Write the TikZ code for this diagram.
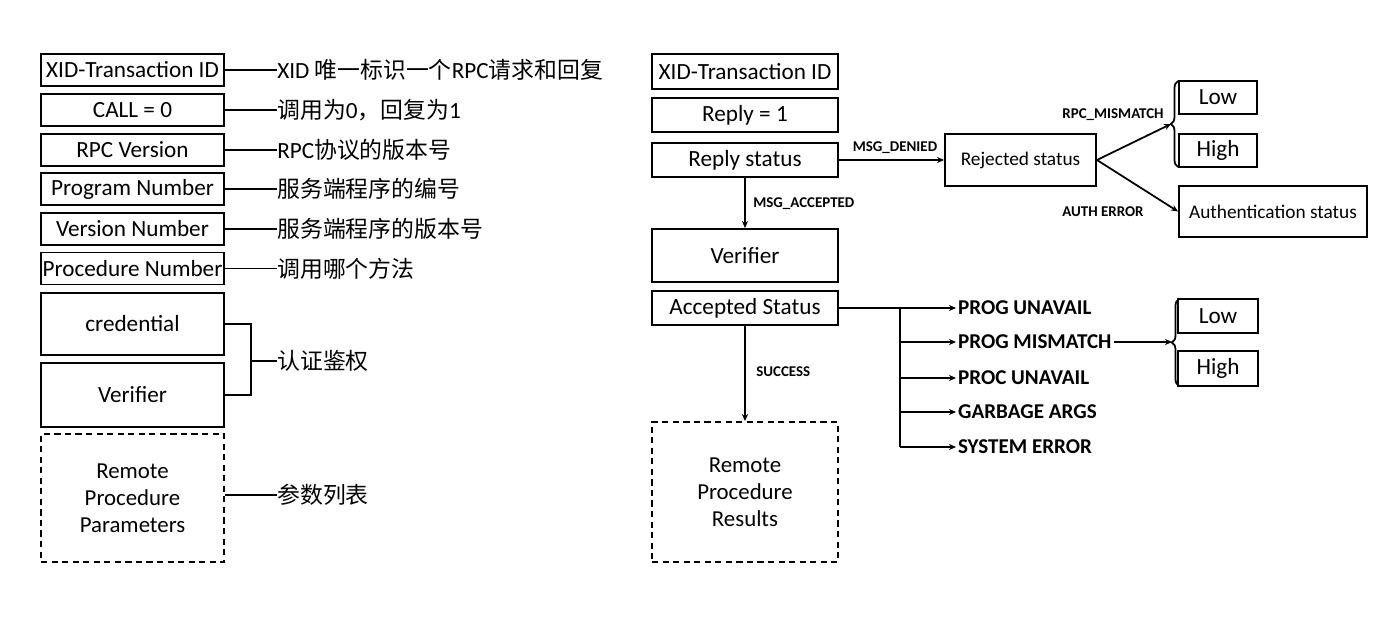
\documentclass[tikz,border=0pt]{standalone}
\usepackage{fontspec}
\setmainfont{Carlito}
\newfontfamily\cjk{Noto Sans CJK SC}
\usetikzlibrary{arrows.meta,decorations.pathreplacing}
\newcommand\zh[1]{{\cjk\fontsize{13}{15}\selectfont #1}}
\tikzset{
  field/.style={draw,line width=1.1pt,minimum width=3.66cm,minimum height=0.64cm,inner sep=0pt,font=\fontsize{13.2}{15}\selectfont},
  dfield/.style={field,dash pattern=on 3.5pt off 2.5pt,align=center,font=\fontsize{13}{15.4}\selectfont},
  state/.style={draw,line width=1.1pt,inner sep=0pt,font=\fontsize{11}{13}\selectfont},
  note/.style={anchor=west,inner sep=0pt,font=\fontsize{13.2}{15}\selectfont},
  tag/.style={inner sep=0pt,font=\bfseries\fontsize{8.5}{10}\selectfont},
  code/.style={anchor=west,inner sep=1pt,font=\bfseries\fontsize{12}{13}\selectfont},
  wire/.style={line width=1pt},
  arr/.style={wire,-{Stealth[length=4pt,width=3.5pt]}},
  vbrace/.style={decorate,decoration={brace,amplitude=4pt},line width=1pt}
}
\begin{document}
\begin{tikzpicture}
\useasboundingbox (0,0) rectangle (27.68,-12.68);
\node[field] (xid) at (2.65,-1.40) {XID-Transaction ID};
\node[field] (call) at (2.65,-2.20) {CALL = 0};
\node[field] (rpcv) at (2.65,-3.00) {RPC Version};
\node[field] (prog) at (2.65,-3.78) {Program Number};
\node[field] (vers) at (2.65,-4.58) {Version Number};
\node[field] (proc) at (2.65,-5.37) {Procedure Number};
\node[field,minimum height=1.24cm] (cred) at (2.65,-6.48) {credential};
\node[field,minimum height=1.28cm] (verf) at (2.65,-7.90) {Verifier};
\node[dfield,minimum height=2.56cm] (params) at (2.65,-9.96) {Remote\\Procedure\\Parameters};

\node[note] (nxid) at (5.54,-1.40) {XID \zh{唯一标识一个}RPC\zh{请求和回复}};
\node[note] (ncall) at (5.54,-2.20) {\zh{调用为}0\zh{，回复为}1};
\node[note] (nrpcv) at (5.54,-3.00) {RPC\zh{协议的版本号}};
\node[note] (nprog) at (5.54,-3.78) {\zh{服务端程序的编号}};
\node[note] (nvers) at (5.54,-4.58) {\zh{服务端程序的版本号}};
\node[note] (nproc) at (5.54,-5.37) {\zh{调用哪个方法}};
\node[note] (nauth) at (5.54,-7.22) {\zh{认证鉴权}};
\node[note] (nparams) at (5.54,-9.90) {\zh{参数列表}};
\coordinate (join) at (5.02,-7.22);

\draw[wire] (xid) -- (nxid);
\draw[wire] (call) -- (ncall);
\draw[wire] (rpcv) -- (nrpcv);
\draw[wire] (prog) -- (nprog);
\draw[wire] (vers) -- (nvers);
\draw[wire] (proc) -- (nproc);
\draw[wire] (cred.east) -| (join) |- (verf.east);
\draw[wire] (join) -- (nauth);
\draw[wire] (params.east |- nparams) -- (nparams);

\node[field,minimum width=3.72cm,minimum height=0.70cm] (rxid) at (14.90,-1.43) {XID-Transaction ID};
\node[field,minimum width=3.72cm,minimum height=0.68cm] (reply) at (14.90,-2.30) {Reply = 1};
\node[field,minimum width=3.72cm,minimum height=0.68cm] (rstat) at (14.90,-3.20) {Reply status};
\node[field,minimum width=3.72cm,minimum height=1.06cm] (rverf) at (14.90,-5.11) {Verifier};
\node[field,minimum width=3.72cm,minimum height=0.68cm] (acc) at (14.90,-6.16) {Accepted Status};
\node[dfield,minimum width=3.72cm,minimum height=2.80cm] (res) at (14.90,-9.84) {Remote\\Procedure\\Results};

\node[state,minimum width=3.02cm,minimum height=1.04cm] (rej) at (20.41,-3.20) {Rejected status};
\node[field,minimum width=1.56cm,minimum height=0.66cm] (low1) at (24.36,-1.95) {Low};
\node[field,minimum width=1.56cm,minimum height=0.66cm] (high1) at (24.36,-3.01) {High};
\node[state,minimum width=3.76cm,minimum height=1.02cm] (authst) at (25.46,-4.23) {Authentication status};
\draw[vbrace] (23.56,-3.34) -- (23.56,-1.62);
\coordinate (tip1) at (23.42,-2.48);

\draw[arr] (rstat) -- (rej);
\node[tag] at (17.90,-2.96) {MSG\_DENIED};
\draw[arr] (rstat) -- (rverf);
\node[tag,anchor=west] at (15.06,-4.08) {MSG\_ACCEPTED};
\draw[arr] (rej.east) -- (tip1);
\draw[arr] (rej.east) -- (authst.west);
\node[tag] at (22.26,-2.30) {RPC\_MISMATCH};
\node[tag] at (22.06,-4.24) {AUTH ERROR};

\coordinate (trunk) at (18.00,-6.16);
\node[code] (c1) at (19.12,-6.16) {PROG UNAVAIL};
\node[code] (c2) at (19.12,-6.84) {PROG MISMATCH};
\node[code] (c3) at (19.12,-7.56) {PROC UNAVAIL};
\node[code] (c4) at (19.12,-8.24) {GARBAGE ARGS};
\node[code] (c5) at (19.12,-8.94) {SYSTEM ERROR};
\draw[wire] (acc.east) -- (trunk) -- (trunk |- c5.west);
\draw[arr] (trunk) -- (c1.west);
\draw[arr] (trunk |- c2.west) -- (c2.west);
\draw[arr] (trunk |- c3.west) -- (c3.west);
\draw[arr] (trunk |- c4.west) -- (c4.west);
\draw[arr] (trunk |- c5.west) -- (c5.west);

\node[field,minimum width=1.60cm,minimum height=0.68cm] (low2) at (24.36,-6.32) {Low};
\node[field,minimum width=1.60cm,minimum height=0.70cm] (high2) at (24.36,-7.37) {High};
\draw[vbrace] (23.58,-7.72) -- (23.58,-5.98);
\coordinate (tip2) at (23.44,-6.84);
\draw[arr] (c2.east) -- (tip2);

\draw[arr] (acc) -- (res);
\node[tag,anchor=west] at (15.12,-7.44) {SUCCESS};
\end{tikzpicture}
\end{document}
